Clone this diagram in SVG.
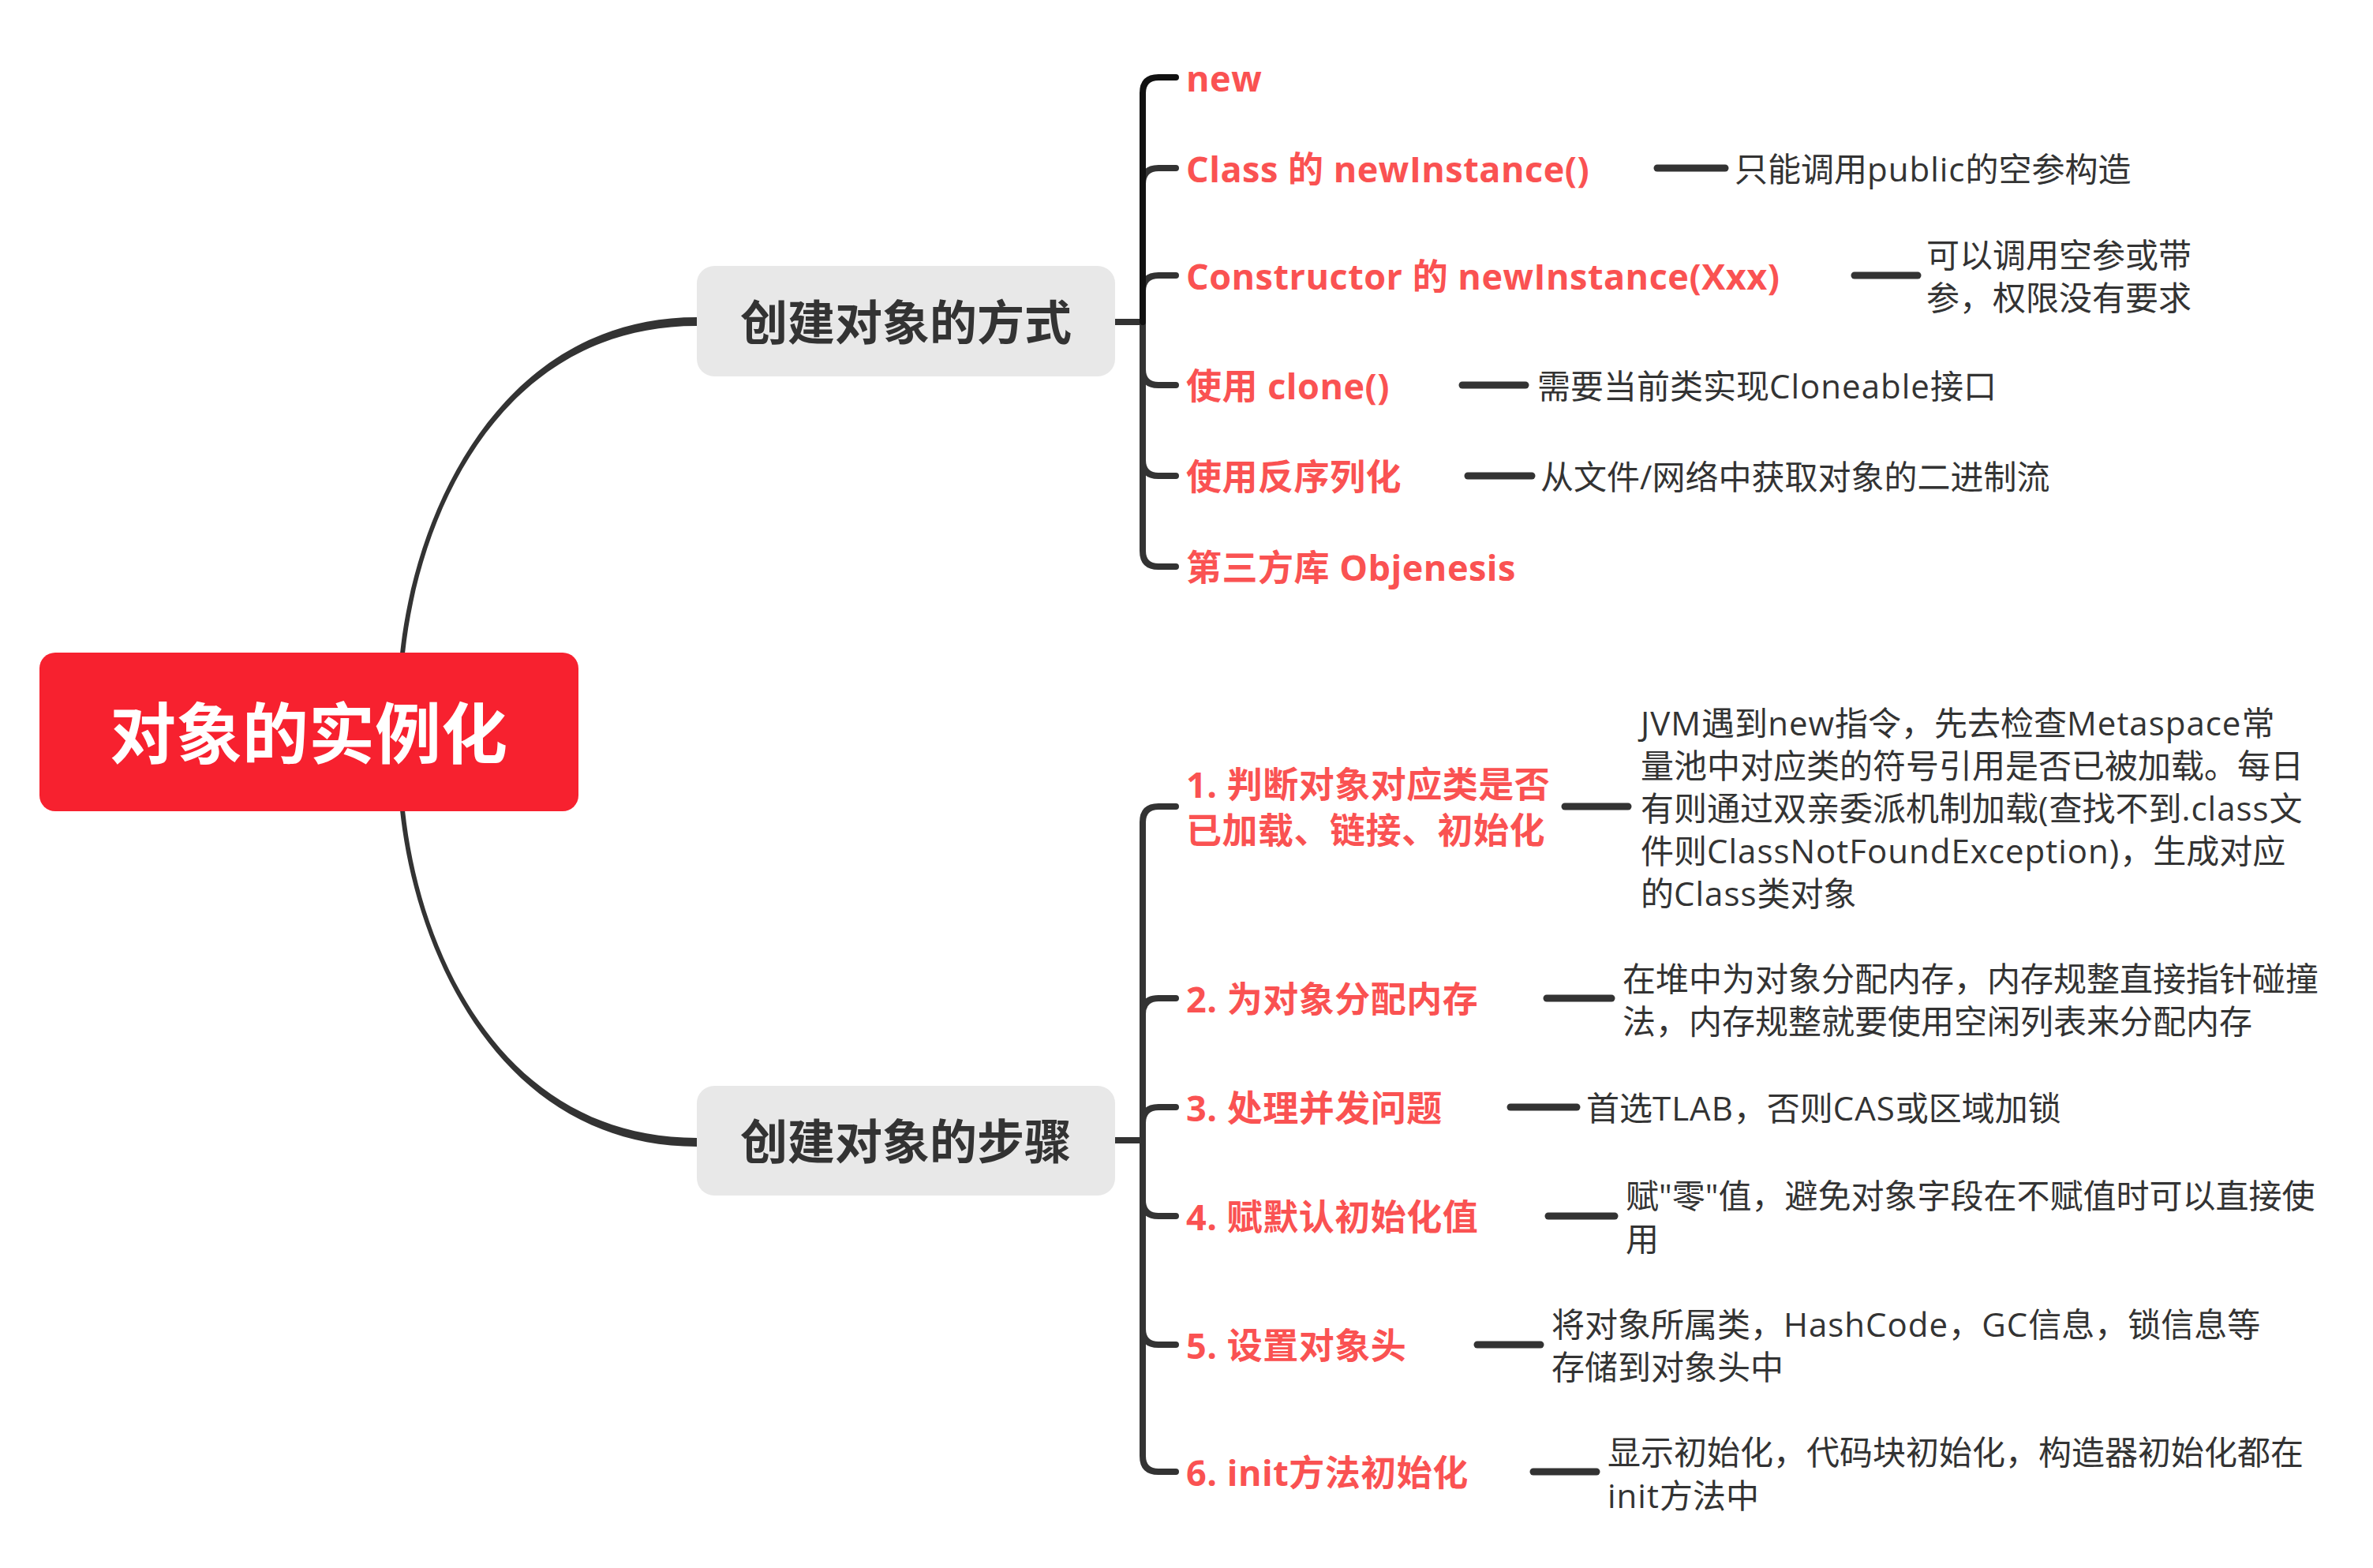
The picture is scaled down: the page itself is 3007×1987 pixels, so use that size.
<svg xmlns="http://www.w3.org/2000/svg" width="3007" height="1987" viewBox="0 0 3007 1987">
<style>
.t{font-family:"Open Sans","Noto Sans CJK SC",sans-serif;font-weight:700;fill:#FA5252;font-size:45px;letter-spacing:0.5px;dominant-baseline:central}
.d{font-family:"Open Sans","Noto Sans CJK SC",sans-serif;font-weight:400;fill:#333333;font-size:42px;dominant-baseline:central}
.l{letter-spacing:1px}
.n{font-family:"Open Sans","Noto Sans CJK SC",sans-serif;font-weight:700;fill:#333333;font-size:60px;dominant-baseline:central;text-anchor:middle}
.br{fill:none;stroke:#333333;stroke-width:8;stroke-linecap:round;stroke-linejoin:round}
.st{fill:none;stroke:#333333;stroke-width:9;stroke-linecap:round}
</style>
<rect width="3007" height="1987" fill="#FFFFFF"/>
<g id="connectors">
<path d="M507,828 C527,640 639,402 883,402 L883,413 C641,413 533,640 513,828 Z" fill="#333333"/>
<path d="M507,1027 C527,1215 639,1453 883,1453 L883,1442 C641,1442 533,1215 513,1027 Z" fill="#333333"/>
<path class="br" d="M1413,408 H1448"/>
<path class="br" d="M1413,1445 H1448"/>
<path class="br" d="M1448,408 V233 Q1448,213 1468,213 H1490"/>
<path class="br" d="M1448,408 V369 Q1448,349 1468,349 H1490"/>
<path class="br" d="M1448,408 V468 Q1448,488 1468,488 H1490"/>
<path class="br" d="M1448,408 V583 Q1448,603 1468,603 H1490"/>
<path class="br" d="M1448,408 V698 Q1448,718 1468,718 H1490"/>
<path class="br" style="stroke:#111111" d="M1448,408 V118 Q1448,98 1468,98 H1490"/>
<path class="br" d="M1448,1445 V1042 Q1448,1022 1468,1022 H1490"/>
<path class="br" d="M1448,1445 V1285 Q1448,1265 1468,1265 H1490"/>
<path class="br" d="M1448,1445 V1423 Q1448,1403 1468,1403 H1490"/>
<path class="br" d="M1448,1445 V1521 Q1448,1541 1468,1541 H1490"/>
<path class="br" d="M1448,1445 V1684 Q1448,1704 1468,1704 H1490"/>
<path class="br" d="M1448,1445 V1845 Q1448,1865 1468,1865 H1490"/>
<path class="st" d="M2100,213 H2186"/>
<path class="st" d="M2350,349 H2430"/>
<path class="st" d="M1853,488 H1933"/>
<path class="st" d="M1860,603 H1941"/>
<path class="st" d="M1983,1022 H2063"/>
<path class="st" d="M1960,1265 H2042"/>
<path class="st" d="M1914,1403 H1998"/>
<path class="st" d="M1962,1541 H2046"/>
<path class="st" d="M1872,1704 H1952"/>
<path class="st" d="M1943,1865 H2023"/>
</g>
<g id="root">
<rect x="50" y="827" width="683" height="201" rx="20" fill="#F7212F"/>
<text x="391" y="928" style="font-family:'Open Sans','Noto Sans CJK SC',sans-serif;font-weight:700;font-size:84px;fill:#FFFFFF;text-anchor:middle;dominant-baseline:central">对象的实例化</text>
</g>
<g id="node-ways">
<rect x="883" y="337" width="530" height="140" rx="22" fill="#E8E8E8"/>
<text class="n" x="1148" y="408">创建对象的方式</text>
</g>
<g id="node-steps">
<rect x="883" y="1376" width="530" height="139" rx="22" fill="#E8E8E8"/>
<text class="n" x="1148" y="1446">创建对象的步骤</text>
</g>
<g id="way-new"><text class="t" x="1503" y="98">new</text></g>
<g id="way-class"><text class="t" x="1503" y="213">Class 的 newInstance()</text><text class="d" x="2198" y="213">只能调用<tspan class="l">public</tspan>的空参构造</text></g>
<g id="way-constructor"><text class="t" x="1503" y="349">Constructor 的 newInstance(Xxx)</text><text class="d" x="2441" y="322">可以调用空参或带</text><text class="d" x="2441" y="376">参，权限没有要求</text></g>
<g id="way-clone"><text class="t" x="1503" y="488">使用 clone()</text><text class="d" x="1948" y="488">需要当前类实现<tspan class="l">Cloneable</tspan>接口</text></g>
<g id="way-serial"><text class="t" x="1503" y="603">使用反序列化</text><text class="d" x="1952" y="603">从文件/网络中获取对象的二进制流</text></g>
<g id="way-objenesis"><text class="t" x="1503" y="718">第三方库 Objenesis</text></g>
<g id="step-1"><text class="t" x="1503" y="993">1. 判断对象对应类是否</text><text class="t" x="1503" y="1051">已加载、链接、初始化</text>
<text class="d" x="2079" y="915"><tspan class="l">JVM</tspan>遇到<tspan class="l">new</tspan>指令，先去检查<tspan class="l">Metaspace</tspan>常</text>
<text class="d" x="2079" y="969">量池中对应类的符号引用是否已被加载。每日</text>
<text class="d" x="2079" y="1023">有则通过双亲委派机制加载<tspan class="l">(</tspan>查找不到<tspan class="l">.class</tspan>文</text>
<text class="d" x="2079" y="1077">件则<tspan class="l">ClassNotFoundException)</tspan>，生成对应</text>
<text class="d" x="2079" y="1131">的<tspan class="l">Class</tspan>类对象</text></g>
<g id="step-2"><text class="t" x="1503" y="1265">2. 为对象分配内存</text>
<text class="d" x="2056" y="1239">在堆中为对象分配内存，内存规整直接指针碰撞</text>
<text class="d" x="2056" y="1293">法，内存规整就要使用空闲列表来分配内存</text></g>
<g id="step-3"><text class="t" x="1503" y="1403">3. 处理并发问题</text>
<text class="d" x="2010" y="1403">首选<tspan class="l">TLAB</tspan>，否则<tspan class="l">CAS</tspan>或区域加锁</text></g>
<g id="step-4"><text class="t" x="1503" y="1541">4. 赋默认初始化值</text>
<text class="d" x="2060" y="1514">赋"零"值，避免对象字段在不赋值时可以直接使</text>
<text class="d" x="2060" y="1569">用</text></g>
<g id="step-5"><text class="t" x="1503" y="1704">5. 设置对象头</text>
<text class="d" x="1966" y="1677">将对象所属类，<tspan class="l">HashCode</tspan>，<tspan class="l">GC</tspan>信息，锁信息等</text>
<text class="d" x="1966" y="1731">存储到对象头中</text></g>
<g id="step-6"><text class="t" x="1503" y="1865">6. init方法初始化</text>
<text class="d" x="2037" y="1839">显示初始化，代码块初始化，构造器初始化都在</text>
<text class="d" x="2037" y="1894"><tspan class="l">init</tspan>方法中</text></g>
</svg>
